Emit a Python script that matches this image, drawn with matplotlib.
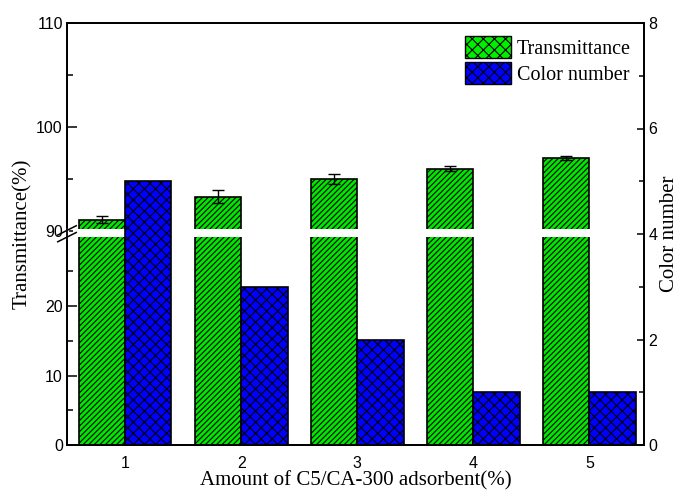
import numpy as np
import matplotlib
matplotlib.use("Agg")
import matplotlib.pyplot as plt
from matplotlib.patches import Patch

amount = [1, 2, 3, 4, 5]
transmittance = [91.1, 93.3, 95.0, 96.0, 97.0]
trans_err = [0.3, 0.6, 0.45, 0.25, 0.2]
color_number = [5, 3, 2, 1, 1]

plt.rcParams['font.family'] = 'Liberation Sans'
plt.rcParams['hatch.linewidth'] = 0.8


# broken left axis: 0-30 below, 90-110 above, squeezed gap between
def fwd(y):
    y = np.asarray(y, dtype=float)
    return np.where(y <= 30, y * 6.95,
                    np.where(y < 90, 208.5 + (y - 30) * 5.5 / 60,
                             214 + (y - 90) * 10.4))


def inv(u):
    u = np.asarray(u, dtype=float)
    return np.where(u <= 208.5, u / 6.95,
                    np.where(u < 214, 30 + (u - 208.5) * 60 / 5.5,
                             90 + (u - 214) / 10.4))


fig = plt.figure(figsize=(6.83, 4.93), dpi=100)
ax = fig.add_axes([67 / 683, 48 / 493, 577 / 683, 422 / 493])
ax.set_yscale('function', functions=(fwd, inv))

x = np.array(amount)
w = 0.4
ax.bar(x - w / 2, transmittance, w, color='#00e600', edgecolor='black',
       hatch='//////', linewidth=1.2, zorder=2)
ax.errorbar(x - w / 2, transmittance, yerr=trans_err, fmt='none',
            ecolor='black', elinewidth=1, capsize=4, capthick=1, zorder=4)
ax.axhspan(29.9, 90.2, xmin=0.01, xmax=0.99, color='white', lw=0, zorder=3)

ax.set_ylim(0, 110)
ax.set_xlim(0.5, 5.47)
ax.set_yticks([0, 10, 20, 90, 100, 110])
ax.set_yticks([5, 15, 25, 95, 105], minor=True)
ax.yaxis.set_major_formatter(plt.FuncFormatter(lambda v, p: f'{v:.0f}'))
ax.yaxis.set_minor_formatter(plt.NullFormatter())
ax.set_xticks(amount)
ax.tick_params(axis='y', which='major', direction='in', length=7, width=1.1,
               labelsize=11.5, pad=3)
ax.tick_params(axis='y', which='minor', direction='in', length=4.5, width=1.1)
ax.tick_params(axis='x', length=0, labelsize=11.5, pad=8)
ax.set_xlabel('Amount of C5/CA-300 adsorbent(%)', family='Liberation Serif',
              fontsize=15, labelpad=0)
ax.set_ylabel('Transmittance(%)', family='Liberation Serif', fontsize=15,
              labelpad=3)
for s in ax.spines.values():
    s.set_linewidth(1.3)

# break marks on left spine
yb = float(fwd(60) / fwd(110))
ax.plot([0, 0], [yb - 0.009, yb + 0.009], transform=ax.transAxes,
        color='white', lw=3, clip_on=False, zorder=6)
for dy in (-0.008, 0.008):
    ax.plot([-0.016, 0.016], [yb + dy - 0.011, yb + dy + 0.011],
            transform=ax.transAxes, color='black', lw=1.1, clip_on=False,
            zorder=7)

ax2 = ax.twinx()
ax2.bar(x + w / 2, color_number, w, color='#0000ff', edgecolor='black',
        hatch='xxx', linewidth=1.2, zorder=2)
ax2.set_ylim(0, 8)
ax2.set_yticks([0, 2, 4, 6, 8])
ax2.set_yticks([1, 3, 5, 7], minor=True)
ax2.tick_params(axis='y', which='major', direction='in', length=5, width=1.1,
                labelsize=11.5, pad=3)
ax2.tick_params(axis='y', which='minor', direction='in', length=3.5, width=1.1)
ax2.set_ylabel('Color number', family='Liberation Serif', fontsize=15,
               labelpad=2)
for s in ax2.spines.values():
    s.set_linewidth(1.3)

handles = [Patch(facecolor='#00ee00', edgecolor='black', hatch='xxx'),
           Patch(facecolor='#0000ff', edgecolor='black', hatch='xxx')]
ax2.legend(handles, ['Transmittance', 'Color number'], loc='upper right',
           bbox_to_anchor=(1.0, 1.0), frameon=False, handlelength=2.3,
           handleheight=1.3, labelspacing=0.15, handletextpad=0.3,
           borderaxespad=0.25, prop={'family': 'Liberation Serif', 'size': 14.5})

fig.savefig('out.png', dpi=100)
